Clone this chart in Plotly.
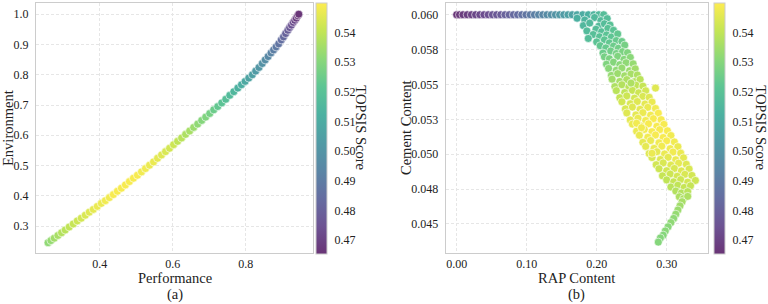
import plotly.graph_objects as go

# ---------------- Panel (a): Performance vs Environment ----------------
perf = [0.258, 0.266, 0.275, 0.285, 0.295, 0.305, 0.316, 0.327, 0.338, 0.349,
        0.360, 0.371, 0.382, 0.393, 0.404, 0.415, 0.426, 0.437, 0.448, 0.459,
        0.470, 0.481, 0.492, 0.503, 0.514, 0.525, 0.536, 0.547, 0.558, 0.569,
        0.580, 0.591, 0.602, 0.613, 0.624, 0.635, 0.646, 0.657, 0.668, 0.679,
        0.690, 0.701, 0.712, 0.723, 0.734, 0.745, 0.756, 0.767, 0.778, 0.788,
        0.798, 0.808, 0.818, 0.827, 0.836, 0.845, 0.853, 0.861, 0.869, 0.876,
        0.883, 0.890, 0.897, 0.903, 0.909, 0.915, 0.920, 0.925, 0.930, 0.934,
        0.938, 0.942, 0.945]
env = [0.245, 0.252, 0.260, 0.269, 0.278, 0.287, 0.297, 0.307, 0.317, 0.326,
       0.336, 0.346, 0.355, 0.365, 0.375, 0.384, 0.394, 0.404, 0.415, 0.425,
       0.436, 0.447, 0.458, 0.468, 0.479, 0.490, 0.501, 0.512, 0.524, 0.535,
       0.546, 0.557, 0.569, 0.580, 0.591, 0.603, 0.614, 0.626, 0.637, 0.649,
       0.660, 0.672, 0.684, 0.695, 0.707, 0.719, 0.732, 0.744, 0.756, 0.767,
       0.778, 0.789, 0.800, 0.812, 0.824, 0.837, 0.849, 0.860, 0.872, 0.882,
       0.892, 0.902, 0.915, 0.925, 0.936, 0.947, 0.956, 0.964, 0.973, 0.980,
       0.987, 0.995, 1.000]
score_a = [0.532, 0.533, 0.535, 0.536, 0.538, 0.539, 0.540, 0.541, 0.542, 0.543,
           0.544, 0.545, 0.546, 0.547, 0.547, 0.548, 0.548, 0.549, 0.549, 0.549,
           0.549, 0.549, 0.549, 0.549, 0.548, 0.548, 0.547, 0.547, 0.546, 0.545,
           0.544, 0.543, 0.542, 0.540, 0.539, 0.537, 0.536, 0.534, 0.532, 0.530,
           0.529, 0.527, 0.525, 0.523, 0.521, 0.519, 0.517, 0.515, 0.513, 0.511,
           0.509, 0.507, 0.505, 0.503, 0.501, 0.499, 0.497, 0.495, 0.493, 0.491,
           0.489, 0.487, 0.485, 0.483, 0.481, 0.479, 0.477, 0.475, 0.473, 0.471,
           0.469, 0.467, 0.466]

# ---------------- Panel (b): RAP Content vs Cement Content ----------------
rap = [
    # flat band at max cement
    0.000, 0.004, 0.009, 0.015, 0.021, 0.027, 0.033, 0.039, 0.045, 0.051,
    0.057, 0.063, 0.069, 0.075, 0.081, 0.087, 0.093, 0.099, 0.105, 0.111,
    0.117, 0.123, 0.129, 0.135, 0.141, 0.147, 0.153, 0.159, 0.165, 0.172,
    0.180, 0.188, 0.196, 0.203, 0.210,
    # descending cloud
    0.172, 0.183, 0.197, 0.206, 0.215,
    0.181, 0.190, 0.203, 0.211, 0.219,
    0.186, 0.199, 0.207, 0.216, 0.224,
    0.195, 0.204, 0.214, 0.221, 0.230,
    0.200, 0.211, 0.218, 0.228, 0.236,
    0.205, 0.213, 0.224, 0.231, 0.240,
    0.209, 0.220, 0.228, 0.237, 0.244,
    0.211, 0.218, 0.230, 0.239, 0.248,
    0.214, 0.224, 0.233, 0.242, 0.252,
    0.217, 0.228, 0.236, 0.247, 0.255,
    0.221, 0.230, 0.240, 0.249, 0.258,
    0.222, 0.233, 0.243, 0.254, 0.262,
    0.226, 0.236, 0.246, 0.256, 0.266,
    0.228, 0.240, 0.251, 0.260, 0.270,
    0.233, 0.243, 0.254, 0.266, 0.275,
    0.236, 0.248, 0.258, 0.269, 0.279,
    0.241, 0.251, 0.262, 0.273, 0.284,
    0.243, 0.256, 0.266, 0.277, 0.288,
    0.248, 0.259, 0.270, 0.281, 0.292,
    0.251, 0.263, 0.274, 0.286, 0.296,
    0.257, 0.268, 0.279, 0.290, 0.301,
    0.261, 0.273, 0.284, 0.295, 0.306,
    0.266, 0.277, 0.289, 0.300, 0.311,
    0.270, 0.282, 0.293, 0.305, 0.316,
    0.275, 0.286, 0.297, 0.309, 0.320,
    0.279, 0.291, 0.302, 0.313, 0.324,
    0.285, 0.295, 0.306, 0.317, 0.328,
    0.289, 0.300, 0.311, 0.321, 0.332,
    0.294, 0.305, 0.315, 0.326, 0.336,
    0.300, 0.310, 0.320, 0.330, 0.341,
    0.306, 0.316, 0.325, 0.334,
    0.313, 0.321, 0.330,
    0.318, 0.324, 0.330,
    # scattered points
    0.284, 0.257, 0.279, 0.188, 0.249, 0.264,
    # tail
    0.322, 0.319, 0.316, 0.313, 0.310, 0.306, 0.302, 0.298, 0.295, 0.291, 0.288]
cement = [
    0.0600, 0.0600, 0.0600, 0.0600, 0.0600, 0.0600, 0.0600, 0.0600, 0.0600, 0.0600,
    0.0600, 0.0600, 0.0600, 0.0600, 0.0600, 0.0600, 0.0600, 0.0600, 0.0600, 0.0600,
    0.0600, 0.0600, 0.0600, 0.0600, 0.0600, 0.0600, 0.0600, 0.0600, 0.0600, 0.0600,
    0.0600, 0.0600, 0.0600, 0.0600, 0.0600,
    0.05975, 0.05962, 0.05980, 0.05958, 0.05972,
    0.05922, 0.05940, 0.05918, 0.05935, 0.05926,
    0.05884, 0.05896, 0.05878, 0.05902, 0.05888,
    0.05858, 0.05842, 0.05855, 0.05840, 0.05862,
    0.05805, 0.05820, 0.05798, 0.05815, 0.05808,
    0.05778, 0.05762, 0.05775, 0.05760, 0.05782,
    0.05725, 0.05740, 0.05722, 0.05735, 0.05728,
    0.05698, 0.05684, 0.05702, 0.05680, 0.05694,
    0.05645, 0.05660, 0.05642, 0.05656, 0.05648,
    0.05615, 0.05602, 0.05618, 0.05598, 0.05612,
    0.05565, 0.05578, 0.05562, 0.05575, 0.05568,
    0.05538, 0.05522, 0.05535, 0.05520, 0.05536,
    0.05485, 0.05498, 0.05482, 0.05495, 0.05488,
    0.05456, 0.05442, 0.05458, 0.05440, 0.05455,
    0.05405, 0.05418, 0.05402, 0.05415, 0.05408,
    0.05376, 0.05362, 0.05378, 0.05360, 0.05374,
    0.05325, 0.05338, 0.05322, 0.05336, 0.05328,
    0.05296, 0.05282, 0.05298, 0.05280, 0.05294,
    0.05245, 0.05258, 0.05242, 0.05255, 0.05248,
    0.05216, 0.05202, 0.05218, 0.05200, 0.05214,
    0.05165, 0.05178, 0.05162, 0.05176, 0.05168,
    0.05136, 0.05122, 0.05138, 0.05120, 0.05134,
    0.05085, 0.05098, 0.05082, 0.05096, 0.05088,
    0.05056, 0.05042, 0.05058, 0.05040, 0.05054,
    0.05005, 0.05018, 0.05002, 0.05016, 0.05008,
    0.04976, 0.04962, 0.04978, 0.04960, 0.04974,
    0.04925, 0.04938, 0.04922, 0.04936, 0.04928,
    0.04896, 0.04882, 0.04898, 0.04880, 0.04894,
    0.04845, 0.04858, 0.04842, 0.04856, 0.04848,
    0.04816, 0.04802, 0.04818, 0.04800, 0.04812,
    0.04765, 0.04778, 0.04762, 0.04774,
    0.04736, 0.04722, 0.04732,
    0.04695, 0.04682, 0.04698,
    0.05474, 0.05222, 0.05007, 0.05830, 0.05510, 0.05190,
    0.0466, 0.0463, 0.0460, 0.0457, 0.0454, 0.0451, 0.0448, 0.0445, 0.0442, 0.0440, 0.0437]
score_b = [
    0.466, 0.467, 0.468, 0.469, 0.470, 0.471, 0.472, 0.473, 0.474, 0.476,
    0.477, 0.478, 0.480, 0.481, 0.483, 0.484, 0.486, 0.487, 0.489, 0.491,
    0.493, 0.494, 0.496, 0.498, 0.500, 0.502, 0.503, 0.505, 0.506, 0.508,
    0.510, 0.512, 0.514, 0.516, 0.518,
    0.512, 0.514, 0.516, 0.517, 0.518,
    0.515, 0.516, 0.517, 0.518, 0.520,
    0.517, 0.518, 0.519, 0.520, 0.521,
    0.519, 0.520, 0.521, 0.522, 0.523,
    0.521, 0.522, 0.523, 0.524, 0.525,
    0.523, 0.524, 0.525, 0.526, 0.527,
    0.525, 0.526, 0.527, 0.528, 0.529,
    0.527, 0.528, 0.529, 0.530, 0.531,
    0.529, 0.530, 0.531, 0.532, 0.533,
    0.531, 0.532, 0.533, 0.534, 0.535,
    0.533, 0.534, 0.535, 0.536, 0.537,
    0.535, 0.536, 0.537, 0.538, 0.539,
    0.537, 0.538, 0.539, 0.540, 0.541,
    0.539, 0.540, 0.541, 0.542, 0.543,
    0.541, 0.542, 0.543, 0.544, 0.545,
    0.543, 0.544, 0.545, 0.546, 0.547,
    0.544, 0.545, 0.546, 0.547, 0.548,
    0.545, 0.546, 0.547, 0.548, 0.549,
    0.546, 0.547, 0.548, 0.549, 0.549,
    0.547, 0.548, 0.549, 0.549, 0.549,
    0.547, 0.548, 0.549, 0.549, 0.549,
    0.547, 0.548, 0.549, 0.549, 0.548,
    0.546, 0.547, 0.548, 0.549, 0.548,
    0.546, 0.547, 0.548, 0.548, 0.547,
    0.545, 0.546, 0.547, 0.548, 0.547,
    0.544, 0.545, 0.546, 0.547, 0.546,
    0.543, 0.544, 0.545, 0.546, 0.545,
    0.542, 0.543, 0.544, 0.545, 0.544,
    0.541, 0.542, 0.543, 0.544, 0.543,
    0.540, 0.541, 0.542, 0.543, 0.542,
    0.539, 0.540, 0.541, 0.541,
    0.538, 0.538, 0.539,
    0.537, 0.537, 0.537,
    0.545, 0.548, 0.547, 0.518, 0.537, 0.548,
    0.536, 0.535, 0.534, 0.533, 0.532, 0.532, 0.531, 0.531, 0.530, 0.530, 0.530]

# ---------------- Tick labels ----------------
xa_tickvals = [0.4, 0.6, 0.8]
xa_ticktext = ["0.4", "0.6", "0.8"]
ya_tickvals = [0.3, 0.4, 0.5, 0.6, 0.7, 0.8, 0.9, 1.0]
ya_ticktext = ["0.3", "0.4", "0.5", "0.6", "0.7", "0.8", "0.9", "1.0"]
xb_tickvals = [0.0, 0.1, 0.2, 0.3]
xb_ticktext = ["0.00", "0.10", "0.20", "0.30"]
yb_tickvals = [0.045, 0.0475, 0.050, 0.0525, 0.055, 0.0575, 0.060]
yb_ticktext = ["0.045", "0.048", "0.050", "0.053", "0.055", "0.058", "0.060"]
cb_tickvals = [0.47, 0.48, 0.49, 0.50, 0.51, 0.52, 0.53, 0.54]
cb_ticktext = ["0.47", "0.48", "0.49", "0.50", "0.51", "0.52", "0.53", "0.54"]

# ---------------- Style ----------------
W, H = 768, 304
FONT = "Liberation Serif, Times New Roman, serif"
viridis = ["#440154", "#482878", "#3e4989", "#31688e", "#26828e",
           "#1f9e89", "#35b779", "#6ece58", "#b5de2b", "#fde725"]
ALPHA = 0.8


def blend(h):
    r, g, b = int(h[1:3], 16), int(h[3:5], 16), int(h[5:7], 16)
    f = lambda c: round(ALPHA * c + (1 - ALPHA) * 255)
    return f"rgb({f(r)},{f(g)},{f(b)})"


cscale = [[i / (len(viridis) - 1), blend(c)] for i, c in enumerate(viridis)]
CMIN, CMAX = 0.4653, 0.5500


def px(x):
    return x / W


def py(y):
    return 1 - y / H


top_px, bot_px = 3, 253
ydom = [py(bot_px), py(top_px)]

marker_common = dict(size=8, line=dict(color="white", width=0.6), opacity=1)

fig = go.Figure()
fig.add_trace(go.Scatter(x=perf, y=env, mode="markers", xaxis="x", yaxis="y",
                         marker=dict(color=score_a, coloraxis="coloraxis", **marker_common),
                         showlegend=False, hoverinfo="skip"))
fig.add_trace(go.Scatter(x=rap, y=cement, mode="markers", xaxis="x2", yaxis="y2",
                         marker=dict(color=score_b, coloraxis="coloraxis2", **marker_common),
                         showlegend=False, hoverinfo="skip"))

TICKFONT = dict(family=FONT, size=12, color="#222")
base_axis = dict(showline=True, mirror=True, linecolor="#cccccc", linewidth=1,
                 showgrid=True, gridcolor="#e6e6e6", gridwidth=0.8, griddash="3px,2px",
                 zeroline=False, tickfont=TICKFONT)
x_axis_common = dict(base_axis, ticks="")
y_axis_common = dict(base_axis, ticks="outside", ticklen=4, tickcolor="rgba(0,0,0,0)")


def cbar(xleft):
    return dict(x=px(xleft), xanchor="left", xpad=0, y=py(top_px), yanchor="top", ypad=0,
                len=bot_px - top_px + 1, lenmode="pixels", thickness=11,
                outlinewidth=1, outlinecolor="#cccccc",
                tickvals=cb_tickvals, ticktext=cb_ticktext, ticks="outside", ticklen=5,
                tickcolor="rgba(0,0,0,0)", tickfont=TICKFONT)


fig.update_layout(
    width=W, height=H, margin=dict(l=0, r=0, t=0, b=0),
    paper_bgcolor="white", plot_bgcolor="white",
    font=dict(family=FONT, size=12, color="#222"),
    xaxis=dict(domain=[px(36), px(313)], range=[0.225, 0.984], anchor="y",
               tickvals=xa_tickvals, ticktext=xa_ticktext, **x_axis_common),
    yaxis=dict(domain=ydom, range=[0.211, 1.037], anchor="x",
               tickvals=ya_tickvals, ticktext=ya_ticktext, **y_axis_common),
    xaxis2=dict(domain=[px(445.7), px(708)], range=[-0.0157, 0.359], anchor="y2",
                tickvals=xb_tickvals, ticktext=xb_ticktext, **x_axis_common),
    yaxis2=dict(domain=ydom, range=[0.04292, 0.06084], anchor="x2",
                tickvals=yb_tickvals, ticktext=yb_ticktext, **y_axis_common),
    coloraxis=dict(colorscale=cscale, cmin=CMIN, cmax=CMAX, colorbar=cbar(316)),
    coloraxis2=dict(colorscale=cscale, cmin=CMIN, cmax=CMAX, colorbar=cbar(714)),
)

TFS = 14.5
ann = [
    ("Environment", 8, 128, -90),
    ("Performance", 174.5, 277.5, 0),
    ("(a)", 174.5, 294.5, 0),
    ("TOPSIS Score", 360.7, 128, 90),
    ("Cement Content", 406, 128, -90),
    ("RAP Content", 576.8, 277.5, 0),
    ("(b)", 576.8, 294.5, 0),
    ("TOPSIS Score", 760.7, 128, 90),
]
for text, x, y, ang in ann:
    fig.add_annotation(text=text, x=px(x), y=py(y), xref="paper", yref="paper",
                       xanchor="center", yanchor="middle", showarrow=False, textangle=ang,
                       font=dict(family=FONT, size=TFS, color="#222"))

fig.write_html("out.html", config={"displayModeBar": False},
               post_script="document.body.style.margin='0';document.body.style.overflow='hidden';")
